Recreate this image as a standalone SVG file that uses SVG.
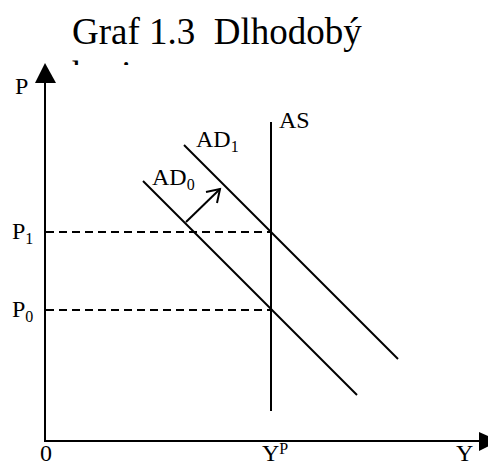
<svg xmlns="http://www.w3.org/2000/svg" width="488" height="465" viewBox="0 0 488 465" font-family="'Liberation Serif', serif">
<style>
.lbl{font-size:24px;font-family:'Liberation Serif',serif}
.sub{font-size:16px}
.ln{stroke:#000;stroke-width:2;fill:none}
.dash{stroke:#000;stroke-width:2;fill:none;stroke-dasharray:8 5}
</style>
<defs>
<clipPath id="cl"><rect x="0" y="0" width="488" height="65"/></clipPath>
</defs>
<rect width="488" height="465" fill="#fff"/>
<g id="title" font-family="'Liberation Serif', serif">
<text x="72" y="44" font-size="37" xml:space="preserve">Graf 1.3  Dlhodobý</text>
<text x="72" y="86.5" font-size="37" clip-path="url(#cl)">horizont</text>
</g>
<g id="axes">
<line class="ln" x1="45" y1="80" x2="45" y2="441"/>
<polygon points="45,63 35,83 56,83" fill="#000"/>
<line class="ln" x1="44" y1="441" x2="482" y2="441"/>
<polygon points="499,441 479,432 479,451" fill="#000"/>
</g>
<g id="connectors">
<line class="dash" x1="46" y1="232" x2="271" y2="232"/>
<line class="dash" x1="46" y1="310" x2="271" y2="310"/>
<line class="ln" x1="186" y1="222" x2="220" y2="189"/>
<polyline class="ln" points="206,192 220,189 217,203"/>
</g>
<g id="AS"><line class="ln" x1="271" y1="122" x2="271" y2="411"/>
<text class="lbl" x="279" y="128">AS</text></g>
<g id="AD1"><line class="ln" x1="184" y1="145" x2="398" y2="359"/>
<text class="lbl" x="196" y="147">AD<tspan class="sub" dy="5">1</tspan></text></g>
<g id="AD0"><line class="ln" x1="143" y1="181" x2="357" y2="395"/>
<text class="lbl" x="152" y="185">AD<tspan class="sub" dy="5">0</tspan></text></g>
<g id="labels">
<text class="lbl" x="15" y="94">P</text>
<text class="lbl" x="12" y="239">P<tspan class="sub" dy="5">1</tspan></text>
<text class="lbl" x="12" y="317">P<tspan class="sub" dy="5">0</tspan></text>
<text class="lbl" x="40" y="461">0</text>
<text class="lbl" x="262" y="461">Y<tspan class="sub" dy="-7">P</tspan></text>
<text class="lbl" x="456" y="461">Y</text>
</g>
</svg>
